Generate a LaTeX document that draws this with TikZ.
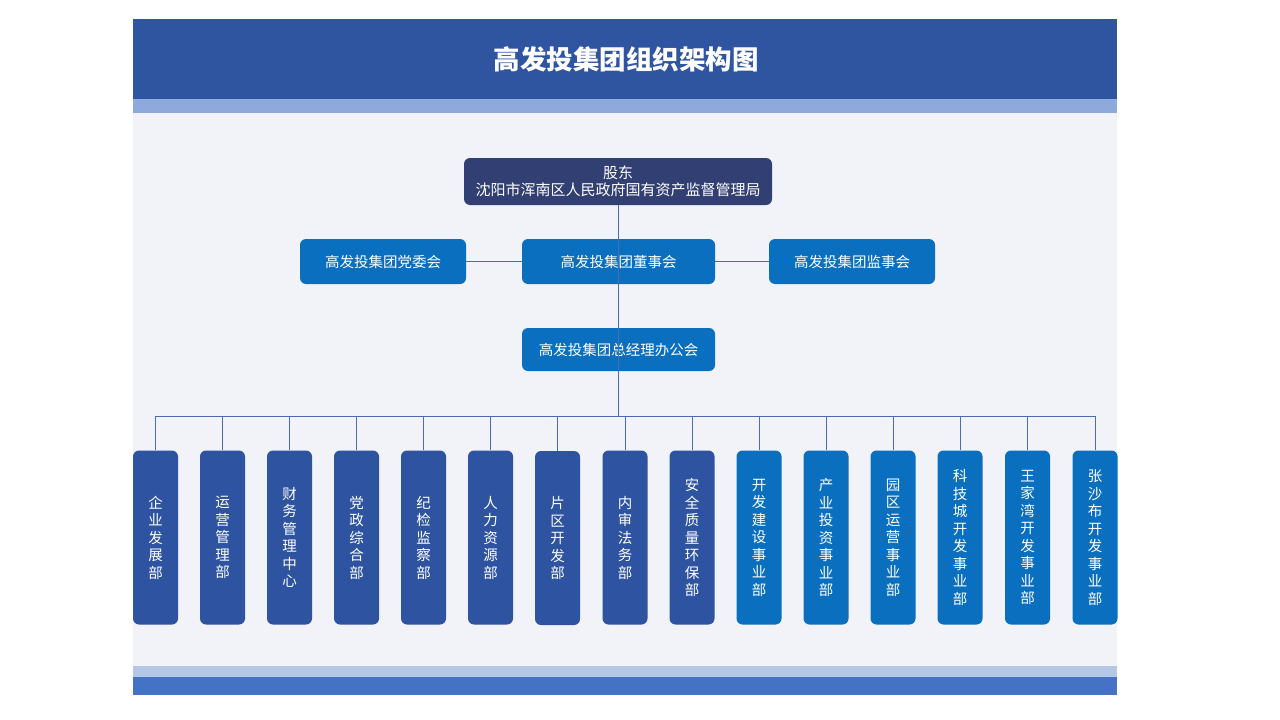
\documentclass[tikz,border=0pt]{standalone}
\usepackage{fontspec}
\setmainfont{Noto Sans CJK SC}
\newfontfamily\cjk{Noto Sans CJK SC}
\definecolor{topbar}{HTML}{2F54A0}
\definecolor{lightbar}{HTML}{8EA9DB}
\definecolor{panelbg}{HTML}{F1F3F9}
\definecolor{botstrip}{HTML}{B4C7E7}
\definecolor{botbar}{HTML}{4472C4}
\definecolor{navy}{HTML}{323F72}
\definecolor{bluebox}{HTML}{0A6FBE}
\definecolor{darkbox}{HTML}{2E53A0}
\definecolor{linec}{HTML}{4A6CB3}
\tikzset{
  box/.style={rounded corners=6pt, draw=none, text=white, align=center, inner sep=0pt, font=\cjk\fontsize{14.5}{17}\selectfont},
  hbox/.style={box, fill=bluebox, minimum height=45pt},
  vbox/.style={box, minimum width=45pt, minimum height=174pt, font=\cjk\fontsize{14.5}{17.5}\selectfont},
  dark/.style={vbox, fill=darkbox},
  light/.style={vbox, fill=bluebox},
  conn/.style={draw=linec, line width=0.9pt}
}
\begin{document}
\begin{tikzpicture}[x=1pt,y=-1pt]
\useasboundingbox (0,0) rectangle (1280,720);
\fill[white] (0,0) rectangle (1280,720);
% frame
\fill[panelbg] (133,113) rectangle (1117,666);
\fill[topbar] (133,19) rectangle (1117,99);
\fill[lightbar] (133,99) rectangle (1117,113);
\fill[botstrip] (133,666) rectangle (1117,677);
\fill[botbar] (133,677) rectangle (1117,695);
\node[text=white, font=\cjk\bfseries\fontsize{26.5}{30}\selectfont] (title) at (626,59) {高发投集团组织架构图};
% top boxes
\node[box, fill=navy, minimum width=308pt, minimum height=47pt, font=\cjk\fontsize{15}{17.5}\selectfont] (sh) at (618,181.5) {股东\\沈阳市浑南区人民政府国有资产监督管理局};
\node[hbox, minimum width=166pt] (party) at (383,261.5) {高发投集团党委会};
\node[hbox, minimum width=193pt] (board) at (618.5,261.5) {高发投集团董事会};
\node[hbox, minimum width=166pt] (sup) at (852,261.5) {高发投集团监事会};
\node[hbox, minimum width=193pt, minimum height=43pt] (gm) at (618.5,349.5) {高发投集团总经理办公会};
% departments
\node[dark]  (d1)  at (155.5,537.5) {企\\业\\发\\展\\部};
\node[dark]  (d2)  at (222.5,537.5) {运\\营\\管\\理\\部};
\node[dark]  (d3)  at (289.5,537.5) {财\\务\\管\\理\\中\\心};
\node[dark]  (d4)  at (356.5,537.5) {党\\政\\综\\合\\部};
\node[dark]  (d5)  at (423.5,537.5) {纪\\检\\监\\察\\部};
\node[dark]  (d6)  at (490.5,537.5) {人\\力\\资\\源\\部};
\node[dark]  (d7)  at (557.5,538) {片\\区\\开\\发\\部};
\node[dark]  (d8)  at (625,537.5) {内\\审\\法\\务\\部};
\node[dark]  (d9)  at (692,537.5) {安\\全\\质\\量\\环\\保\\部};
\node[light] (d10) at (759,537.5) {开\\发\\建\\设\\事\\业\\部};
\node[light] (d11) at (826,537.5) {产\\业\\投\\资\\事\\业\\部};
\node[light] (d12) at (893,537.5) {园\\区\\运\\营\\事\\业\\部};
\node[light] (d13) at (960,537.5) {科\\技\\城\\开\\发\\事\\业\\部};
\node[light] (d14) at (1027.5,537.5) {王\\家\\湾\\开\\发\\事\\业\\部};
\node[light] (d15) at (1095,537.5) {张\\沙\\布\\开\\发\\事\\业\\部};
% connectors
\coordinate (bus) at (618,416);
\draw[conn] (sh.south) -- (bus);
\draw[conn] (party.east) -- (board.west);
\draw[conn] (board.east) -- (sup.west);
\draw[conn] (d1.north |- bus) -- (d15.north |- bus);
\foreach \i in {1,...,15} {
  \draw[conn] (d\i.north |- bus) -- (d\i.north);
}
\end{tikzpicture}
\end{document}
